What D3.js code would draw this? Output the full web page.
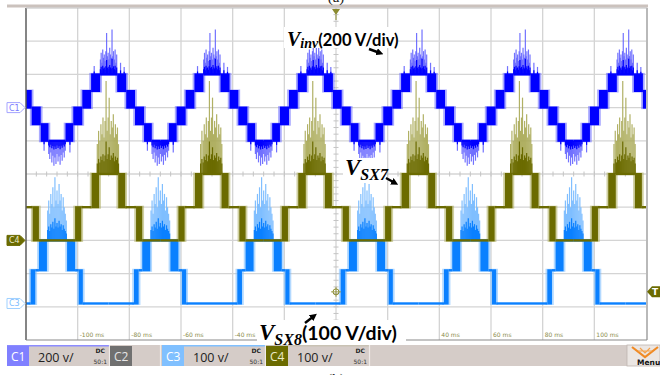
<!DOCTYPE html>
<html>
<head>
<meta charset="utf-8">
<script src="https://cdn.jsdelivr.net/npm/d3@7"></script>
<style>
  html, body { margin: 0; padding: 0; background: #fff; }
  svg { display: block; }
</style>
</head>
<body>
<svg id="scope" width="660" height="375"></svg>
<script>

// visible time labels (ms); -20, 0 and 20 sit under the V_SX8 caption
var timeLabels = [-100, -80, -60, -40, 40, 60, 80, 100];

// crest centres in ms
var invCrests = [-128, -88, -48, -8, 32, 72, 112];   // C1 (V_inv) and C4 (V_SX7)
var sx8Crests = [-108, -68, -28, 12, 52, 92, 132];   // C3 (V_SX8)

// one cycle round a crest: [from ms, to ms, low V, high V]; low == high is a flat step
var invCycle = [
  [-20, -16.7, -200, -200],
  [-16.7, -13.7, -200, -100],
  [-13.7, -10.2, -100, 0],
  [-10.2, -6.8, 0, 100],
  [-6.8, -3.3, 100, 200],
  [-3.3, 3.3, 200, 200],
  [3.3, 6.8, 100, 200],
  [6.8, 10.2, 0, 100],
  [10.2, 13.7, -100, 0],
  [13.7, 16.7, -200, -100],
  [16.7, 20, -200, -200]
];
var sx7Cycle = [
  [-20, -13, 0, 0],
  [-13, -10.6, 0, 100],
  [-10.6, -6.6, 100, 100],
  [-6.6, -3.7, 100, 200],
  [-3.7, 3.7, 200, 200],
  [3.7, 6.4, 100, 200],
  [6.4, 10.6, 100, 100],
  [10.6, 13, 0, 100],
  [13, 20, 0, 0]
];
var sx8Cycle = [
  [-20, -10.2, 0, 0],
  [-10.2, -8.4, 0, 100],
  [-8.4, -7, 100, 100],
  [-7, -3.9, 100, 190],
  [-3.9, 3.9, 190, 190],
  [3.9, 7, 100, 190],
  [7, 8.4, 100, 100],
  [8.4, 10, 0, 100],
  [10, 20, 0, 0]
];

// switching spikes: [ms from crest (or trough), V beyond the plateau]
var invSpikesUp = [[-5.6, 50], [-3.2, 90], [-2.9, 130], [-2.6, 70], [-2.3, 150], [-2.0, 100],
  [-1.7, 120], [-1.4, 80], [-1.1, 140], [-0.8, 250], [-0.5, 110], [-0.2, 130], [0.1, 90],
  [0.4, 160], [0.7, 120], [1.0, 100], [1.3, 270], [1.6, 110], [1.9, 140], [2.2, 90],
  [2.5, 150], [2.8, 70], [3.1, 120], [4.6, 70], [6.0, 45]];
var invSpikesDown = [[-5.0, 60], [-3.2, 80], [-2.8, 110], [-2.4, 70], [-2.0, 130], [-1.6, 90],
  [-1.2, 150], [-0.8, 100], [-0.4, 140], [0, 80], [0.4, 125], [0.8, 95], [1.2, 145],
  [1.6, 85], [2.0, 120], [2.4, 70], [2.8, 100], [3.2, 60], [5.0, 70]];
var sx7SpikesUp = [[-4.4, 90], [-3.9, 130], [-3.4, 100], [-3.0, 150], [-2.6, 120], [-2.2, 170],
  [-1.8, 110], [-1.4, 160], [-1.0, 280], [-0.6, 130], [-0.2, 170], [0.2, 230], [0.6, 120],
  [1.0, 160], [1.4, 140], [1.8, 180], [2.2, 110], [2.6, 150], [3.0, 120], [3.4, 140], [3.8, 90]];
var sx8SpikesUp = [[-3.6, 90], [-3.2, 120], [-2.8, 80], [-2.4, 140], [-2.0, 110], [-1.6, 160],
  [-1.2, 100], [-0.8, 190], [-0.4, 120], [0, 150], [0.4, 110], [0.8, 170], [1.2, 120],
  [1.6, 140], [2.0, 90], [2.4, 130], [2.8, 100], [3.2, 80], [3.6, 60]];

// scope channel settings: volts per division and reference offset in divisions
var channels = [
  {name: "C1", cycle: invCycle, crests: invCrests, vPerDiv: 200, offsetDiv: 2.0, top: 200, bottom: -200,
   up: invSpikesUp, down: invSpikesDown, core: "#0000ff", light: "#6464ff"},
  {name: "C3", cycle: sx8Cycle, crests: sx8Crests, vPerDiv: 100, offsetDiv: -3.9, top: 190, bottom: 0,
   up: sx8SpikesUp, down: [], core: "#0a80ff", light: "#74b9ff"},
  {name: "C4", cycle: sx7Cycle, crests: invCrests, vPerDiv: 100, offsetDiv: -2.0, top: 200, bottom: 0,
   up: sx7SpikesUp, down: [], core: "#6b6b00", light: "#a9a955"}
];
var triggerLevelDiv = -3.55;

var svg = d3.select("#scope");
var plot = {left: 26, right: 646, top: 8, bottom: 340};
var x = d3.scaleLinear().domain([-120, 120]).range([plot.left, plot.right]);
var y = d3.scaleLinear().domain([-5, 5]).range([plot.bottom, plot.top]);
function yv(ch, v) { return y(ch.offsetDiv + v / ch.vPerDiv); }

svg.append("defs").append("clipPath").attr("id", "plotclip")
  .append("rect").attr("x", plot.left).attr("y", plot.top)
  .attr("width", plot.right - plot.left).attr("height", plot.bottom - plot.top);

// top status strip
svg.append("rect").attr("x", 7).attr("y", 4.5).attr("width", 641).attr("height", 3).attr("fill", "#cbc2bd");

// grid
var grid = svg.append("g");
grid.selectAll("line.gv").data(d3.range(-100, 101, 20)).enter().append("line")
  .attr("x1", function(d) { return x(d); }).attr("x2", function(d) { return x(d); })
  .attr("y1", plot.top).attr("y2", plot.bottom)
  .attr("stroke", "#d4d4d4").attr("stroke-width", 1.3);
grid.selectAll("line.gh").data(d3.range(-4, 5, 1)).enter().append("line")
  .attr("x1", plot.left).attr("x2", plot.right)
  .attr("y1", function(d) { return y(d); }).attr("y2", function(d) { return y(d); })
  .attr("stroke", "#d4d4d4").attr("stroke-width", 1.3);
grid.selectAll("line.tv").data(d3.range(-4.8, 5, 0.2)).enter().append("line")
  .attr("x1", x(0) - 2.5).attr("x2", x(0) + 2.5)
  .attr("y1", function(d) { return y(d); }).attr("y2", function(d) { return y(d); })
  .attr("stroke", "#c4c4c4").attr("stroke-width", 1);
grid.selectAll("line.th").data(d3.range(-116, 120, 4)).enter().append("line")
  .attr("x1", function(d) { return x(d); }).attr("x2", function(d) { return x(d); })
  .attr("y1", y(0) - 2.5).attr("y2", y(0) + 2.5)
  .attr("stroke", "#c4c4c4").attr("stroke-width", 1);

grid.selectAll("text.tl").data(timeLabels).enter().append("text")
  .attr("x", function(d) { return x(d) + 2; }).attr("y", plot.bottom - 3)
  .attr("font-family", "DejaVu Sans").attr("font-size", 6).attr("fill", "#8c8c4c")
  .text(function(d) { return d + " ms"; });

// traces
var traces = svg.append("g").attr("clip-path", "url(#plotclip)");
channels.forEach(function(ch) {
  var g = traces.append("g");
  var segs = [];
  ch.crests.forEach(function(c) {
    ch.cycle.forEach(function(s) { segs.push({t0: c + s[0], t1: c + s[1], lo: s[2], hi: s[3]}); });
  });
  var bands = segs.filter(function(s) { return s.lo !== s.hi; });
  var flats = segs.filter(function(s) { return s.lo === s.hi; });

  // persistence halo round the switching blocks
  g.selectAll("rect.halo").data(bands).enter().append("rect")
    .attr("x", function(d) { return x(d.t0 - 0.7); })
    .attr("width", function(d) { return x(d.t1 + 0.7) - x(d.t0 - 0.7); })
    .attr("y", function(d) { return yv(ch, d.hi) - 1.5; })
    .attr("height", function(d) { return yv(ch, d.lo) - yv(ch, d.hi) + 3; })
    .attr("fill", ch.light).attr("opacity", 0.55);

  var spikes = [];
  ch.crests.forEach(function(c) {
    ch.up.forEach(function(s) { spikes.push({t: c + s[0], a: ch.top, b: ch.top + s[1]}); });
    ch.down.forEach(function(s) { spikes.push({t: c + 20 + s[0], a: ch.bottom, b: ch.bottom - s[1]}); });
  });
  g.selectAll("line.spike").data(spikes).enter().append("line")
    .attr("x1", function(d) { return x(d.t); }).attr("x2", function(d) { return x(d.t); })
    .attr("y1", function(d) { return yv(ch, d.a); }).attr("y2", function(d) { return yv(ch, d.b); })
    .attr("stroke", ch.light).attr("stroke-width", 1.2).attr("opacity", 0.9);
  g.selectAll("line.spikecore").data(spikes).enter().append("line")
    .attr("x1", function(d) { return x(d.t); }).attr("x2", function(d) { return x(d.t); })
    .attr("y1", function(d) { return yv(ch, d.a); })
    .attr("y2", function(d) { return yv(ch, d.a + (d.b - d.a) * 0.35); })
    .attr("stroke", ch.core).attr("stroke-width", 1.2);

  g.selectAll("rect.band").data(bands).enter().append("rect")
    .attr("x", function(d) { return x(d.t0); })
    .attr("width", function(d) { return x(d.t1) - x(d.t0); })
    .attr("y", function(d) { return yv(ch, d.hi) - 1; })
    .attr("height", function(d) { return yv(ch, d.lo) - yv(ch, d.hi) + 2; })
    .attr("fill", ch.core);

  g.selectAll("line.flat").data(flats).enter().append("line")
    .attr("x1", function(d) { return x(d.t0); }).attr("x2", function(d) { return x(d.t1); })
    .attr("y1", function(d) { return yv(ch, d.lo); }).attr("y2", function(d) { return yv(ch, d.lo); })
    .attr("stroke", ch.core).attr("stroke-width", 2.4);
});

// plot frame
svg.append("line").attr("x1", plot.left).attr("x2", plot.left).attr("y1", plot.top).attr("y2", plot.bottom)
  .attr("stroke", "#5c5c5c").attr("stroke-width", 1.5);
svg.append("line").attr("x1", plot.right + 1).attr("x2", plot.right + 1).attr("y1", plot.top).attr("y2", plot.bottom)
  .attr("stroke", "#8a8a8a").attr("stroke-width", 1.2);
svg.append("line").attr("x1", plot.left).attr("x2", plot.right + 1).attr("y1", plot.bottom).attr("y2", plot.bottom)
  .attr("stroke", "#8a8a8a").attr("stroke-width", 1.2);
svg.append("line").attr("x1", plot.left).attr("x2", plot.right + 1).attr("y1", plot.top).attr("y2", plot.top)
  .attr("stroke", "#bdbdbd").attr("stroke-width", 1);

// channel reference markers
var markerStyle = {
  C1: {fill: "#fff", stroke: "#a4a4ff", text: "#7a7aff"},
  C3: {fill: "#fff", stroke: "#9fd0ff", text: "#7bbcff"},
  C4: {fill: "#6b6b00", stroke: "#6b6b00", text: "#ececc8"}
};
channels.forEach(function(ch) {
  var yc = yv(ch, 0), st = markerStyle[ch.name];
  svg.append("path")
    .attr("d", "M7," + (yc - 5) + "H20L25," + yc + "L20," + (yc + 5) + "H7Z")
    .attr("fill", st.fill).attr("stroke", st.stroke).attr("stroke-width", 1);
  svg.append("text").attr("x", 9).attr("y", yc + 3).attr("font-family", "DejaVu Sans")
    .attr("font-size", 8).attr("fill", st.text).text(ch.name);
});

// trigger markers
var yt = y(triggerLevelDiv);
svg.append("path").attr("d", "M660," + (yt - 5.5) + "H652L647," + yt + "L652," + (yt + 5.5) + "H660Z")
  .attr("fill", "#6b6b00");
svg.append("text").attr("x", 652).attr("y", yt + 3.5).attr("font-family", "DejaVu Sans")
  .attr("font-size", 9).attr("font-weight", "bold").attr("fill", "#fff").text("T");
svg.append("circle").attr("cx", x(0)).attr("cy", yt).attr("r", 3)
  .attr("fill", "none").attr("stroke", "#8c8c30").attr("stroke-width", 1);
svg.append("path").attr("d", "M" + (x(0) - 5) + "," + yt + "H" + (x(0) + 5) + "M" + x(0) + "," + (yt - 5) + "V" + (yt + 5))
  .attr("stroke", "#8c8c30").attr("stroke-width", 0.8);
svg.append("path").attr("d", "M" + (x(0) - 4) + ",9H" + (x(0) + 4) + "L" + x(0) + ",15Z").attr("fill", "#8c8c30");
svg.append("line").attr("x1", x(0)).attr("x2", x(0)).attr("y1", 15).attr("y2", 20)
  .attr("stroke", "#8c8c30").attr("stroke-width", 1);

// figure captions, clipped by the window edges as in the source figure
svg.append("text").attr("x", x(0)).attr("y", 2).attr("text-anchor", "middle")
  .attr("font-family", "Liberation Serif").attr("font-size", 15).attr("fill", "#222").text("(a)");
svg.append("text").attr("x", x(0)).attr("y", 384).attr("text-anchor", "middle")
  .attr("font-family", "Liberation Serif").attr("font-size", 15).attr("fill", "#222").text("(b)");

// annotations
var defs = svg.select("defs");
defs.append("marker").attr("id", "ah").attr("viewBox", "0 0 10 10").attr("refX", 5).attr("refY", 5)
  .attr("markerWidth", 3).attr("markerHeight", 3).attr("orient", "auto")
  .append("path").attr("d", "M0,0L10,5L0,10Z").attr("fill", "#000");

var ann = svg.append("g");
function label(o) {
  ann.append("rect").attr("x", o.box[0]).attr("y", o.box[1]).attr("width", o.box[2]).attr("height", o.box[3])
    .attr("fill", "#fff");
  var t = ann.append("text").attr("x", o.x).attr("y", o.y).attr("fill", "#000");
  t.append("tspan").attr("font-family", "Liberation Serif").attr("font-style", "italic")
    .attr("font-weight", "bold").attr("font-size", o.vSize).text("V");
  t.append("tspan").attr("font-family", "Liberation Serif").attr("font-style", "italic")
    .attr("font-weight", "bold").attr("font-size", o.subSize).attr("dy", o.subDy).text(o.sub);
  if (o.rest) {
    t.append("tspan").attr("font-family", "Lato").attr("font-weight", "bold")
      .attr("font-size", o.restSize).attr("dy", -o.subDy).text(o.rest);
  }
  ann.append("line").attr("x1", o.arrow[0]).attr("y1", o.arrow[1]).attr("x2", o.arrow[2]).attr("y2", o.arrow[3])
    .attr("stroke", "#000").attr("stroke-width", 2.4).attr("marker-end", "url(#ah)");
}
label({box: [284, 27, 114, 21], x: 287, y: 46, vSize: 20, sub: "inv", subSize: 14, subDy: 2,
       rest: "(200 V/div)", restSize: 16.5, arrow: [369, 49, 380, 53]});
label({box: [343, 158, 42, 25], x: 345, y: 175, vSize: 23, sub: "SX7", subSize: 16, subDy: 5,
       rest: null, arrow: [386, 178, 395, 183]});
label({box: [257, 320, 149, 26], x: 259, y: 340, vSize: 23, sub: "SX8", subSize: 16, subDy: 5,
       rest: "(100 V/div)", restSize: 19.5, arrow: [305, 323, 314, 316]});

// bottom channel bar
var bar = svg.append("g");
bar.append("rect").attr("x", 7).attr("y", 345).attr("width", 653).attr("height", 21).attr("fill", "#d5ccc8");
var panels = [
  {label: "C1", x: 7, w: 102, color: "#8080ff", text: "#fff", scale: "200 v/", dc: true, line: "#8c8cff"},
  {label: "C2", x: 110, w: 50, color: "#707070", text: "#e6e6e6", scale: "", dc: false, line: "#d5ccc8"},
  {label: "C3", x: 162, w: 103, color: "#80c0ff", text: "#fff", scale: "100 v/", dc: true, line: "#80c0ff"},
  {label: "C4", x: 266, w: 103, color: "#6b6b00", text: "#ececc8", scale: "100 v/", dc: true, line: "#c9c2b4"}
];
panels.forEach(function(p) {
  bar.append("rect").attr("x", p.x).attr("y", 345).attr("width", p.w).attr("height", 1.5).attr("fill", p.line);
  bar.append("rect").attr("x", p.x).attr("y", 346).attr("width", 22).attr("height", 20).attr("fill", p.color);
  bar.append("text").attr("x", p.x + 4).attr("y", 361).attr("font-family", "Open Sans")
    .attr("font-size", 12).attr("fill", p.text).text(p.label);
  bar.append("line").attr("x1", p.x + p.w + 0.5).attr("x2", p.x + p.w + 0.5).attr("y1", 345).attr("y2", 366)
    .attr("stroke", "#efebe9").attr("stroke-width", 1.2);
  if (p.scale) {
    bar.append("text").attr("x", p.x + 31).attr("y", 362).attr("font-family", "Open Sans")
      .attr("font-size", 12.5).attr("fill", "#222").text(p.scale);
  }
  if (p.dc) {
    bar.append("text").attr("x", p.x + p.w - 4).attr("y", 353).attr("text-anchor", "end")
      .attr("font-family", "DejaVu Sans").attr("font-weight", "bold").attr("font-size", 6)
      .attr("fill", "#222").text("DC");
    bar.append("text").attr("x", p.x + p.w - 2).attr("y", 364).attr("text-anchor", "end")
      .attr("font-family", "DejaVu Sans").attr("font-size", 6).attr("fill", "#333").text("50:1");
  }
});
bar.append("rect").attr("x", 627).attr("y", 345).attr("width", 33).attr("height", 21)
  .attr("fill", "#ebe6e3").attr("stroke", "#bdb5b0").attr("stroke-width", 0.8);
bar.append("path").attr("d", "M632,347L645,357L658,347").attr("fill", "none")
  .attr("stroke", "#f08a24").attr("stroke-width", 2.2);
bar.append("path").attr("d", "M640,348L645,353L650,348M638,351H652").attr("fill", "none")
  .attr("stroke", "#f5a24a").attr("stroke-width", 1.2);
bar.append("text").attr("x", 637).attr("y", 365).attr("font-family", "DejaVu Sans")
  .attr("font-size", 7.5).attr("font-weight", "bold").attr("fill", "#111").text("Menu");
</script>
</body>
</html>
